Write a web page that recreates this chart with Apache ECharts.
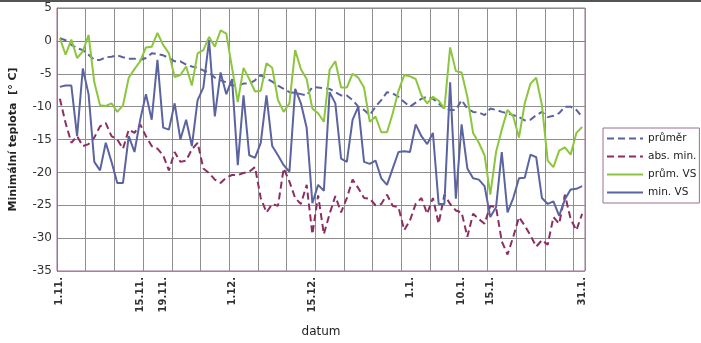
<!DOCTYPE html>
<html>
<head>
<meta charset="utf-8">
<script src="https://cdn.jsdelivr.net/npm/echarts@6/dist/echarts.min.js"></script>
<style>
  html, body { margin: 0; padding: 0; background: #fff; }
  #chart { width: 701px; height: 343px; }
</style>
</head>
<body>
<div id="chart"></div>
<script>
// daily values 1.11. - 31.1.
var monthDays = [[11, 30], [12, 31], [1, 31]];
var shownLabels = ['1.11.', '15.11.', '19.11.', '1.12.', '15.12.', '1.1.', '10.1.', '15.1.', '31.1.'];

var prumer = [
  0.4, 0.1, -0.6, -1.1, -1.4, -2.1, -2.9, -2.9, -2.5, -2.4,
  -2.2, -2.5, -2.7, -2.7, -2.9, -2.6, -1.9, -2.0, -2.2, -2.6,
  -3.1, -3.1, -3.6, -3.9, -4.1, -4.5, -4.8, -5.6, -6.0, -6.3,
  -6.8, -6.8, -6.5, -6.5, -6.0, -5.2, -5.7, -6.2, -6.8, -7.3,
  -7.8, -7.9, -8.1, -8.3, -7.0, -7.1, -7.2, -7.3, -7.8, -8.3,
  -8.3, -9.0, -10.0, -10.5, -11.3, -10.0, -9.0, -7.8, -8.0, -8.5,
  -9.3, -10.0, -9.4, -8.8, -8.5, -8.8, -9.5, -10.3, -10.5, -10.5,
  -9.0, -10.3, -10.8, -10.9, -11.3, -10.3, -10.5, -10.8, -11.0, -11.3,
  -11.6, -12.1, -12.0, -11.3, -10.8, -11.6, -11.4, -11.0, -10.0, -10.0,
  -10.5, -11.6
];

var absMin = [
  -8.8, -12.5, -15.5, -14.5, -16.0, -15.7, -14.7, -13.0, -12.5, -14.5,
  -15.0, -16.4, -13.5, -14.0, -12.7, -14.5, -16.0, -16.4, -17.4, -19.7,
  -16.9, -18.4, -18.2, -16.5, -15.5, -19.4, -20.1, -21.1, -21.6, -20.8,
  -20.4, -20.4, -20.1, -19.9, -19.2, -23.9, -26.1, -24.8, -25.1, -19.4,
  -21.4, -23.9, -24.8, -21.9, -29.4, -23.5, -29.4, -26.3, -23.6, -26.1,
  -23.9, -21.1, -22.4, -23.9, -24.0, -25.0, -24.8, -23.4, -25.1, -25.3,
  -28.8, -27.3, -24.8, -23.9, -26.3, -23.9, -27.8, -23.4, -24.8, -25.8,
  -26.1, -29.8, -26.3, -27.1, -27.8, -25.1, -25.3, -30.5, -32.5, -29.8,
  -26.8, -28.1, -29.6, -31.3, -30.3, -31.0, -26.8, -27.8, -23.4, -27.1,
  -28.8, -26.3
];

var prumVS = [
  0.4, -2.1, 0.2, -2.6, -1.6, 0.9, -6.3, -9.8, -9.9, -9.5,
  -10.8, -9.8, -5.6, -4.3, -3.1, -1.0, -0.9, 1.2, -0.6, -1.9,
  -5.5, -5.2, -3.9, -6.8, -1.9, -1.4, 0.6, -0.9, 1.6, 1.1,
  -4.1, -9.3, -4.1, -5.8, -7.7, -7.6, -3.4, -4.1, -9.0, -10.8,
  -9.5, -1.4, -4.3, -5.8, -10.3, -11.0, -12.3, -4.4, -3.1, -7.1,
  -7.1, -5.0, -5.6, -7.1, -12.3, -11.5, -13.9, -13.9, -11.0, -7.6,
  -5.2, -5.4, -5.8, -8.3, -9.5, -8.5, -9.1, -10.3, -1.0, -4.6,
  -4.8, -8.5, -14.0, -15.5, -17.4, -23.4, -16.9, -13.5, -10.5, -11.5,
  -14.7, -9.5, -6.5, -5.6, -9.8, -18.2, -19.2, -16.7, -16.2, -17.3,
  -14.0, -13.1
];

var minVS = [
  -7.0, -6.8, -6.8, -14.5, -4.2, -8.1, -18.4, -19.7, -15.5, -18.4,
  -21.6, -21.6, -14.5, -16.9, -12.0, -8.1, -12.0, -2.9, -13.2, -13.5,
  -9.5, -15.0, -12.0, -16.0, -9.0, -7.1, 0.1, -11.5, -4.8, -8.1,
  -5.8, -18.9, -8.3, -17.4, -17.8, -15.5, -8.3, -16.0, -17.4, -18.9,
  -19.9, -7.3, -9.5, -13.2, -24.7, -21.9, -22.8, -7.8, -9.5, -17.9,
  -18.4, -12.0, -10.0, -18.4, -18.7, -18.2, -20.9, -21.9, -19.4, -16.9,
  -16.8, -16.9, -12.7, -14.5, -15.7, -14.0, -24.8, -24.8, -6.3, -24.0,
  -12.7, -19.4, -20.9, -21.1, -22.1, -26.8, -25.3, -16.9, -26.1, -23.9,
  -20.9, -20.8, -17.3, -17.7, -23.9, -24.8, -24.4, -26.6, -24.1, -22.6,
  -22.5, -22.1
];

var categories = [];
monthDays.forEach(function (m) {
  for (var d = 1; d <= m[1]; d++) categories.push(d + '.' + m[0] + '.');
});

var frameColor = '#9c6f92';
var gridColor = '#8e8e8e';
var font = 'DejaVu Sans';

var chartDom = document.getElementById('chart');
var myChart = echarts.init(chartDom);
var option = {
  animation: false,
  textStyle: { fontFamily: font },
  graphic: [{
    type: 'line',
    shape: { x1: 0, y1: 1, x2: 701, y2: 1 },
    style: { stroke: '#555', lineWidth: 2 }
  }],
  grid: {
    left: 47, top: 8, width: 538, height: 270,
    show: true, borderColor: frameColor, borderWidth: 1
  },
  legend: {
    orient: 'vertical',
    left: 603, top: 128,
    itemWidth: 36, itemHeight: 12, itemGap: 7,
    padding: [5, 3, 5, 3],
    borderColor: frameColor, borderWidth: 1,
    itemStyle: { opacity: 0 },
    textStyle: { fontFamily: font, fontSize: 10.5, color: '#222' },
    data: ['průměr', 'abs. min.', 'prům. VS', 'min. VS']
  },
  xAxis: {
    type: 'category',
    data: categories,
    boundaryGap: true,
    name: 'datum',
    nameLocation: 'middle',
    nameGap: 55,
    nameTextStyle: { fontFamily: font, fontSize: 12, color: '#222' },
    axisLine: { lineStyle: { color: frameColor, width: 1 } },
    axisTick: { show: false },
    axisLabel: {
      rotate: 90,
      margin: 6,
      fontFamily: font,
      fontSize: 10,
      fontWeight: 'bold',
      color: '#333',
      interval: function (i, v) { return shownLabels.indexOf(v) >= 0; }
    },
    splitLine: {
      show: true,
      interval: function (i) { return i % 5 === 0; },
      lineStyle: { color: gridColor, width: 1 }
    }
  },
  yAxis: {
    type: 'value',
    min: -35, max: 5, interval: 5,
    name: 'Minimální teplota  [° C]',
    nameLocation: 'middle',
    nameGap: 38,
    nameTextStyle: { fontFamily: font, fontSize: 11, fontWeight: 'bold', color: '#222' },
    axisLine: { show: true, lineStyle: { color: frameColor, width: 1 } },
    axisTick: { show: false },
    axisLabel: { fontFamily: font, fontSize: 12, color: '#333', margin: 5 },
    splitLine: { lineStyle: { color: gridColor, width: 1 } }
  },
  series: [
    {
      name: 'průměr', type: 'line', data: prumer, symbol: 'none',
      color: '#5a62a0',
      lineStyle: { color: '#5a62a0', width: 2, type: [7, 4] }
    },
    {
      name: 'abs. min.', type: 'line', data: absMin, symbol: 'none',
      color: '#8c2e62',
      lineStyle: { color: '#8c2e62', width: 2, type: [7, 4] }
    },
    {
      name: 'prům. VS', type: 'line', data: prumVS, symbol: 'none',
      color: '#8cc63f',
      lineStyle: { color: '#8cc63f', width: 2 }
    },
    {
      name: 'min. VS', type: 'line', data: minVS, symbol: 'none',
      color: '#5b64a0',
      lineStyle: { color: '#5b64a0', width: 2 }
    }
  ]
};
option && myChart.setOption(option);
window.addEventListener('resize', function () {
  myChart.resize();
});
</script>
</body>
</html>
